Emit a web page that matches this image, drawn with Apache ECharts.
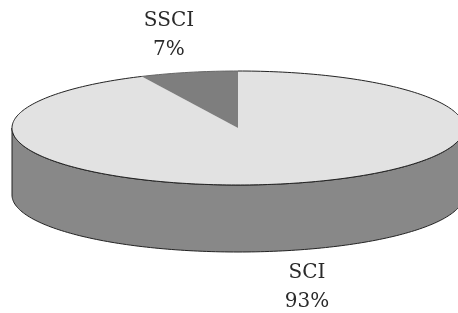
<!DOCTYPE html>
<html>
<head>
<meta charset="utf-8">
<script src="https://cdn.jsdelivr.net/npm/echarts@6/dist/echarts.min.js"></script>
<style>
  html, body { margin: 0; padding: 0; background: #fff; }
  #main { width: 458px; height: 313px; }
</style>
</head>
<body>
<div id="main"></div>
<script>
// 数据
var categories = ['SCI', 'SSCI'];
var values = [93, 7];

var topColors = ['#e2e2e2', '#7e7e7e'];
var sideColor = '#888888';

// 椭圆饼的几何参数
var cx = 238, cy = 128, rx = 226, ry = 57, depth = 67;

var total = values.reduce(function (a, b) { return a + b; }, 0);

function sliceAngles(i) {
  var before = 0;
  for (var k = 0; k < i; k++) before += values[k];
  var a0 = before / total * Math.PI * 2;
  var a1 = (before + values[i]) / total * Math.PI * 2;
  return [a0, a1];
}

// 顺时针，从12点方向开始
function pt(phi, dz) {
  return [cx + rx * Math.sin(phi), cy - ry * Math.cos(phi) + (dz || 0)];
}

function arc(a0, a1, dz) {
  var pts = [];
  var n = Math.max(2, Math.ceil((a1 - a0) / 0.02));
  for (var s = 0; s <= n; s++) {
    pts.push(pt(a0 + (a1 - a0) * s / n, dz));
  }
  return pts;
}

function renderSide(params, api) {
  var ang = sliceAngles(params.dataIndex);
  var a0 = Math.max(ang[0], Math.PI / 2);
  var a1 = Math.min(ang[1], Math.PI * 1.5);
  if (a1 <= a0) return null;
  var upper = arc(a0, a1, 0);
  var lower = arc(a0, a1, depth).reverse();
  return {
    type: 'polygon',
    shape: { points: upper.concat(lower) },
    style: { fill: sideColor, stroke: '#222', lineWidth: 1 }
  };
}

function renderTop(params, api) {
  var i = params.dataIndex;
  var ang = sliceAngles(i);
  var edge = arc(ang[0], ang[1], 0);
  var mid = (ang[0] + ang[1]) / 2;
  var front = Math.cos(mid) < 0;
  var lx = cx + rx * 1.4 * Math.sin(mid);
  var ly = cy - ry * 1.66 * Math.cos(mid) + (front ? depth : 0);
  return {
    type: 'group',
    children: [
      {
        type: 'polygon',
        shape: { points: [[cx, cy]].concat(edge) },
        style: { fill: topColors[i] }
      },
      {
        type: 'polyline',
        shape: { points: edge },
        style: { fill: null, stroke: i === 0 ? '#222' : '#666', lineWidth: 1 }
      },
      {
        type: 'text',
        x: lx,
        y: ly,
        style: {
          text: categories[i] + '\n' + values[i] + '%',
          fill: '#2a2a2a',
          font: '20px "DejaVu Serif"',
          align: 'center',
          verticalAlign: 'middle',
          lineHeight: 29
        }
      }
    ]
  };
}

var seriesData = categories.map(function (c, i) {
  return { name: c, value: values[i] };
});

var chart = echarts.init(document.getElementById('main'), null, { renderer: 'canvas' });
chart.setOption({
  animation: false,
  series: [
    {
      type: 'custom',
      coordinateSystem: 'none',
      renderItem: renderSide,
      data: seriesData,
      z: 1
    },
    {
      type: 'custom',
      coordinateSystem: 'none',
      renderItem: renderTop,
      data: seriesData,
      z: 2
    }
  ]
});
</script>
</body>
</html>
